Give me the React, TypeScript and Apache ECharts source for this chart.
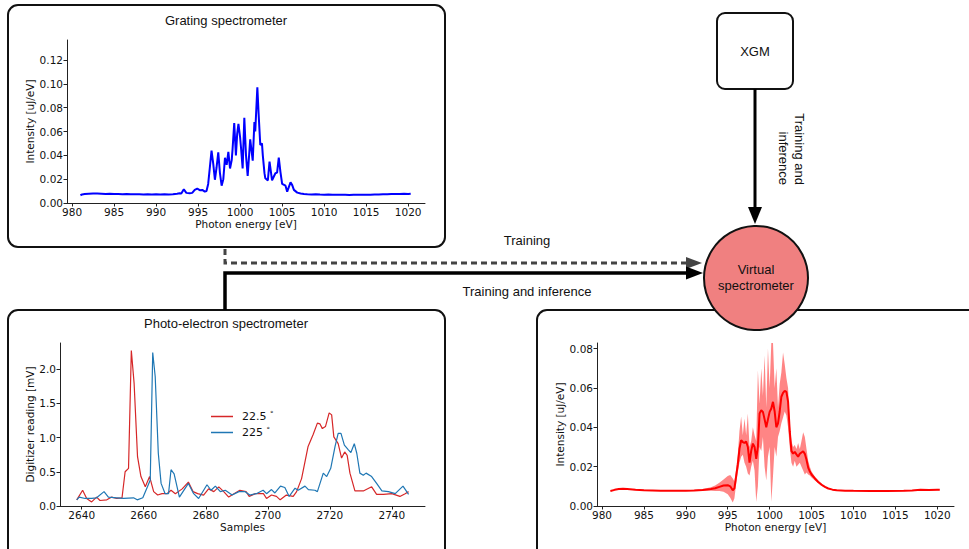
import React, { useEffect, useRef } from "react";
import * as echarts from "echarts";

// ---------- Grating spectrometer ----------
const gratingX = [981.0, 981.2, 981.5, 982.0, 982.5, 983.0, 983.5, 984.0, 984.5, 985.0, 985.5, 986.0, 986.5, 987.0, 987.5, 988.0, 988.5, 989.0, 989.5, 990.0, 990.5, 991.0, 991.5, 992.0, 992.5, 992.8, 993.0, 993.3, 993.6, 994.0, 994.3, 994.6, 994.9, 995.2, 995.5, 995.8, 996.0, 996.2, 996.4, 996.6, 996.8, 997.0, 997.2, 997.4, 997.6, 997.8, 998.0, 998.2, 998.4, 998.6, 998.8, 999.0, 999.1, 999.3, 999.5, 999.65, 999.8, 1000.0, 1000.1, 1000.3, 1000.5, 1000.7, 1000.9, 1001.2, 1001.5, 1001.7, 1001.8, 1002.05, 1002.2, 1002.4, 1002.6, 1002.7, 1002.9, 1003.0, 1003.3, 1003.5, 1003.8, 1004.0, 1004.2, 1004.4, 1004.6, 1004.8, 1005.0, 1005.4, 1005.6, 1006.0, 1006.2, 1006.4, 1006.8, 1007.2, 1007.6, 1008.0, 1008.5, 1009.0, 1009.5, 1010.0, 1010.5, 1011.0, 1011.5, 1012.0, 1012.5, 1013.0, 1013.5, 1014.0, 1014.5, 1015.0, 1015.5, 1016.0, 1016.5, 1017.0, 1017.5, 1018.0, 1018.5, 1019.0, 1019.5, 1020.0, 1020.3];
const gratingY = [0.0065, 0.0072, 0.0075, 0.0078, 0.008, 0.008, 0.0078, 0.0076, 0.0077, 0.0075, 0.0076, 0.0074, 0.0075, 0.0074, 0.0073, 0.0074, 0.0072, 0.0073, 0.0072, 0.0073, 0.0071, 0.0073, 0.0072, 0.0074, 0.0078, 0.0082, 0.008, 0.0115, 0.0085, 0.0082, 0.0085, 0.011, 0.012, 0.0108, 0.011, 0.0095, 0.01, 0.016, 0.03, 0.044, 0.033, 0.0195, 0.03, 0.0425, 0.025, 0.0145, 0.02, 0.038, 0.032, 0.043, 0.029, 0.036, 0.045, 0.067, 0.04, 0.058, 0.0665, 0.055, 0.047, 0.029, 0.0716, 0.04, 0.0227, 0.0534, 0.0355, 0.068, 0.06, 0.097, 0.075, 0.0487, 0.05, 0.04, 0.025, 0.0207, 0.019, 0.0347, 0.019, 0.022, 0.025, 0.0255, 0.038, 0.026, 0.016, 0.0145, 0.0095, 0.0173, 0.015, 0.011, 0.0087, 0.008, 0.0076, 0.0074, 0.0072, 0.0073, 0.0071, 0.007, 0.0071, 0.0069, 0.007, 0.0069, 0.007, 0.0068, 0.007, 0.0069, 0.0069, 0.007, 0.0069, 0.0071, 0.0071, 0.0073, 0.0074, 0.0076, 0.0075, 0.0076, 0.0077, 0.0076, 0.0078];

// ---------- Photo-electron spectrometer ----------
const peRedX = [2638.4, 2640.3, 2641.6, 2643.2, 2644.8, 2645.9, 2648.1, 2649.7, 2651.3, 2653.0, 2654.0, 2655.1, 2656.0, 2656.9, 2658.0, 2659.1, 2660.5, 2661.9, 2663.2, 2664.5, 2665.9, 2667.5, 2668.8, 2670.2, 2672.4, 2674.4, 2675.9, 2677.4, 2679.3, 2680.9, 2682.6, 2684.2, 2685.8, 2687.4, 2689.1, 2691.0, 2693.0, 2694.0, 2696.0, 2698.6, 2699.6, 2701.2, 2702.8, 2704.0, 2706.0, 2708.2, 2709.3, 2710.9, 2713.0, 2714.6, 2716.0, 2716.8, 2717.6, 2718.6, 2719.8, 2720.6, 2721.3, 2722.7, 2723.8, 2724.8, 2725.6, 2726.5, 2728.1, 2730.8, 2733.5, 2735.1, 2737.3, 2740.0, 2742.6, 2744.3, 2745.4];
const peRedY = [0.09, 0.23, 0.11, 0.06, 0.13, 0.08, 0.09, 0.13, 0.11, 0.12, 0.5, 0.55, 2.27, 1.79, 0.72, 0.43, 0.28, 0.43, 0.21, 0.16, 0.18, 0.18, 0.23, 0.18, 0.25, 0.35, 0.21, 0.18, 0.16, 0.25, 0.21, 0.28, 0.21, 0.13, 0.18, 0.23, 0.21, 0.14, 0.18, 0.18, 0.11, 0.16, 0.14, 0.09, 0.16, 0.14, 0.21, 0.4, 0.87, 1.04, 1.21, 1.2, 1.13, 1.16, 1.36, 1.33, 1.01, 0.91, 0.7, 0.79, 0.74, 0.48, 0.22, 0.22, 0.28, 0.17, 0.17, 0.18, 0.14, 0.18, 0.21];
const peBlueX = [2638.4, 2639.2, 2641.1, 2643.2, 2644.8, 2647.2, 2648.6, 2651.3, 2653.5, 2656.7, 2657.9, 2659.7, 2661.2, 2662.1, 2662.9, 2663.7, 2664.7, 2665.6, 2666.9, 2668.0, 2668.8, 2669.8, 2671.5, 2674.4, 2676.1, 2677.7, 2680.4, 2681.7, 2683.1, 2684.7, 2686.3, 2688.5, 2690.7, 2692.6, 2694.2, 2696.3, 2698.5, 2699.6, 2701.2, 2702.3, 2704.1, 2705.5, 2706.9, 2708.8, 2709.8, 2712.0, 2713.1, 2715.2, 2716.0, 2717.9, 2719.0, 2720.3, 2721.7, 2722.7, 2723.6, 2724.7, 2726.0, 2726.8, 2727.9, 2728.7, 2729.7, 2730.8, 2731.7, 2733.5, 2735.1, 2736.8, 2738.9, 2741.1, 2743.6, 2745.4];
const peBlueY = [0.09, 0.13, 0.11, 0.11, 0.12, 0.21, 0.13, 0.12, 0.11, 0.12, 0.09, 0.12, 0.28, 0.38, 2.24, 1.89, 0.77, 0.33, 0.18, 0.18, 0.53, 0.47, 0.13, 0.33, 0.18, 0.11, 0.31, 0.23, 0.29, 0.21, 0.23, 0.16, 0.21, 0.21, 0.16, 0.18, 0.23, 0.18, 0.24, 0.19, 0.29, 0.27, 0.14, 0.26, 0.23, 0.29, 0.24, 0.23, 0.21, 0.48, 0.43, 0.55, 0.87, 1.06, 1.06, 0.89, 0.82, 0.78, 0.91, 0.77, 0.48, 0.45, 0.48, 0.43, 0.33, 0.22, 0.21, 0.18, 0.29, 0.17];
const peSeriesNames = ["22.5 °", "225 °"];

// ---------- Virtual spectrometer ----------
const virtualX = [981.0, 981.5, 982.0, 982.5, 983.0, 984, 985, 986, 987, 988, 989, 990, 991, 992, 993, 993.5, 994, 994.5, 995, 995.3, 995.6, 995.8, 996.0, 996.2, 996.4, 996.6, 996.8, 997.0, 997.2, 997.4, 997.6, 997.8, 998.0, 998.2, 998.4, 998.6, 998.8, 999.0, 999.2, 999.4, 999.6, 999.8, 1000.0, 1000.2, 1000.4, 1000.6, 1000.8, 1001.0, 1001.2, 1001.4, 1001.6, 1001.8, 1002.0, 1002.2, 1002.4, 1002.6, 1002.8, 1003.0, 1003.2, 1003.4, 1003.6, 1003.8, 1004.0, 1004.2, 1004.4, 1004.6, 1004.8, 1005.0, 1005.4, 1005.8, 1006.2, 1006.6, 1007, 1007.5, 1008, 1009, 1010, 1012, 1014, 1016, 1017, 1018, 1019, 1020, 1020.3];
const virtualMean = [0.0076, 0.0082, 0.0086, 0.0088, 0.0086, 0.0082, 0.008, 0.0079, 0.0078, 0.0078, 0.0078, 0.0078, 0.0079, 0.0081, 0.0086, 0.009, 0.0097, 0.0104, 0.0106, 0.01, 0.008, 0.009, 0.015, 0.021, 0.029, 0.0334, 0.0325, 0.032, 0.0328, 0.03, 0.022, 0.028, 0.0317, 0.03, 0.024, 0.03, 0.047, 0.0486, 0.0478, 0.044, 0.04, 0.044, 0.0478, 0.0495, 0.0529, 0.048, 0.04, 0.042, 0.048, 0.0555, 0.0575, 0.0585, 0.058, 0.053, 0.038, 0.028, 0.0266, 0.0275, 0.0262, 0.025, 0.0265, 0.0272, 0.0278, 0.0265, 0.0235, 0.0195, 0.0175, 0.016, 0.014, 0.0122, 0.0108, 0.0097, 0.0089, 0.0083, 0.008, 0.0078, 0.0077, 0.0076, 0.0076, 0.0077, 0.0079, 0.0082, 0.0081, 0.0082, 0.0082];
const virtualUpper = [0.0078, 0.0084, 0.0088, 0.009, 0.0088, 0.0084, 0.0082, 0.0081, 0.008, 0.008, 0.008, 0.008, 0.0082, 0.0086, 0.0095, 0.0104, 0.0118, 0.0135, 0.0152, 0.0158, 0.014, 0.0125, 0.0185, 0.026, 0.038, 0.0455, 0.036, 0.0445, 0.036, 0.047, 0.03, 0.033, 0.04, 0.036, 0.033, 0.069, 0.052, 0.07, 0.056, 0.0765, 0.05, 0.08, 0.06, 0.083, 0.083, 0.06, 0.07, 0.05, 0.062, 0.068, 0.078, 0.072, 0.065, 0.06, 0.042, 0.033, 0.03, 0.031, 0.029, 0.032, 0.029, 0.033, 0.0375, 0.035, 0.029, 0.023, 0.02, 0.0175, 0.015, 0.013, 0.0114, 0.0101, 0.0092, 0.0085, 0.0082, 0.008, 0.0079, 0.0078, 0.0078, 0.0079, 0.0081, 0.0084, 0.0083, 0.0084, 0.0084];
const virtualLower = [0.0074, 0.008, 0.0084, 0.0086, 0.0084, 0.008, 0.0078, 0.0077, 0.0076, 0.0076, 0.0076, 0.0076, 0.0076, 0.0076, 0.0077, 0.0076, 0.0076, 0.0073, 0.006, 0.0042, 0.0018, 0.004, 0.011, 0.017, 0.022, 0.025, 0.026, 0.022, 0.02, 0.0165, 0.0155, 0.02, 0.023, 0.018, 0.002, 0.01, 0.03, 0.028, 0.035, 0.02, 0.013, 0.025, 0.03, 0.002, 0.015, 0.03, 0.025, 0.035, 0.038, 0.042, 0.045, 0.048, 0.046, 0.04, 0.03, 0.022, 0.02, 0.023, 0.02, 0.021, 0.022, 0.02, 0.018, 0.016, 0.017, 0.016, 0.0155, 0.0145, 0.013, 0.0115, 0.0102, 0.0093, 0.0086, 0.0081, 0.0078, 0.0076, 0.0075, 0.0074, 0.0074, 0.0075, 0.0077, 0.008, 0.0079, 0.008, 0.008];

// ---------- Tick values ----------
const energyTicks = [980, 985, 990, 995, 1000, 1005, 1010, 1015, 1020];
const gratingYTicks = [0, 0.02, 0.04, 0.06, 0.08, 0.1, 0.12];
const peXTicks = [2640, 2660, 2680, 2700, 2720, 2740];
const peYTicks = [0, 0.5, 1.0, 1.5, 2.0];
const virtualYTicks = [0, 0.02, 0.04, 0.06, 0.08];

const zip = (xs: number[], ys: number[]) => xs.map((x, i) => [x, ys[i]]);

const TICK_FONT = "DejaVu Sans";
const DIAG_FONT = '"Liberation Sans", Arial, sans-serif';
const AX_COLOR = "#222";
const TXT_COLOR = "#111";

function xAxisDef(gridIndex: number, min: number, max: number, ticks: number[], name: string, nameGap: number) {
  return {
    type: "value",
    gridIndex,
    min,
    max,
    name,
    nameLocation: "middle",
    nameGap,
    nameTextStyle: { fontFamily: TICK_FONT, fontSize: 10.5, color: TXT_COLOR },
    axisLine: { show: true, onZero: false, lineStyle: { color: AX_COLOR, width: 1 } },
    axisTick: { show: true, length: 3.5, customValues: ticks, lineStyle: { color: AX_COLOR, width: 1 } },
    axisLabel: {
      customValues: ticks,
      fontFamily: TICK_FONT,
      fontSize: 10.5,
      color: TXT_COLOR,
      margin: 3,
      formatter: (v: number) => String(v),
    },
    splitLine: { show: false },
  };
}

function yAxisDef(gridIndex: number, min: number, max: number, ticks: number[], digits: number, name: string, nameGap: number) {
  return {
    type: "value",
    gridIndex,
    min,
    max,
    name,
    nameLocation: "middle",
    nameRotate: 90,
    nameGap,
    nameTextStyle: { fontFamily: TICK_FONT, fontSize: 10.5, color: TXT_COLOR },
    axisLine: { show: true, onZero: false, lineStyle: { color: AX_COLOR, width: 1 } },
    axisTick: { show: true, length: 3.5, customValues: ticks, lineStyle: { color: AX_COLOR, width: 1 } },
    axisLabel: {
      customValues: ticks,
      fontFamily: TICK_FONT,
      fontSize: 10.5,
      color: TXT_COLOR,
      margin: 4,
      formatter: (v: number) => v.toFixed(digits),
    },
    splitLine: { show: false },
  };
}

export default function App() {
  const ref = useRef<HTMLDivElement>(null);

  useEffect(() => {
    if (!ref.current) return;
    const chart = echarts.init(ref.current, undefined, { renderer: "svg" });

    const boxStyle = { fill: "none", stroke: "#111", lineWidth: 2 };
    const diagText = (text: string, x: number, y: number, extra: any = {}) => ({
      type: "text",
      x,
      y,
      z: 20,
      style: {
        text,
        fill: "#111",
        font: `13px ${DIAG_FONT}`,
        align: "center",
        verticalAlign: "middle",
        lineHeight: 16,
        ...extra,
      },
    });

    const bandRenderItem = (_params: any, api: any) => {
      const pts: number[][] = [];
      for (let i = 0; i < virtualX.length; i++) pts.push(api.coord([virtualX[i], virtualUpper[i]]));
      for (let i = virtualX.length - 1; i >= 0; i--) pts.push(api.coord([virtualX[i], virtualLower[i]]));
      return {
        type: "polygon",
        shape: { points: pts },
        style: { fill: "rgba(255,0,0,0.48)", stroke: "none" },
      };
    };

    const option: any = {
      animation: false,
      backgroundColor: "#fff",
      grid: [
        { left: 67, top: 40, width: 358, height: 163 },
        { left: 60, top: 343, width: 365, height: 163 },
        { left: 597, top: 343, width: 357, height: 163 },
      ],
      xAxis: [
        xAxisDef(0, 979.4, 1022, energyTicks, "Photon energy [eV]", 15),
        xAxisDef(1, 2633, 2750.7, peXTicks, "Samples", 15),
        xAxisDef(2, 979.4, 1022, energyTicks, "Photon energy [eV]", 15),
      ],
      yAxis: [
        yAxisDef(0, 0, 0.1368, gratingYTicks, 2, "Intensity [uJ/eV]", 29),
        yAxisDef(1, 0, 2.38, peYTicks, 1, "Digitizer reading [mV]", 22),
        yAxisDef(2, 0, 0.0828, virtualYTicks, 2, "Intensity [uJ/eV]", 29),
      ],
      legend: {
        data: peSeriesNames,
        left: 211,
        top: 410,
        padding: 0,
        orient: "vertical",
        icon: "rect",
        itemWidth: 22,
        itemHeight: 1.5,
        itemGap: 3,
        textStyle: {
          fontFamily: TICK_FONT,
          fontSize: 11,
          color: TXT_COLOR,
          lineHeight: 13,
          padding: [0, 0, 0, 4],
          rich: { d: { fontSize: 7, verticalAlign: "top", lineHeight: 13, fontFamily: TICK_FONT, color: TXT_COLOR } },
        },
        formatter: (name: string) => name.replace(" °", " {d|°}"),
      },
      series: [
        {
          name: "Grating",
          type: "line",
          xAxisIndex: 0,
          yAxisIndex: 0,
          data: zip(gratingX, gratingY),
          showSymbol: false,
          symbol: "none",
          color: "#0000ff",
          lineStyle: { color: "#0000ff", width: 2 },
        },
        {
          name: peSeriesNames[0],
          type: "line",
          xAxisIndex: 1,
          yAxisIndex: 1,
          data: zip(peRedX, peRedY),
          symbol: "none",
          color: "#d62728",
          lineStyle: { color: "#d62728", width: 1.2 },
        },
        {
          name: peSeriesNames[1],
          type: "line",
          xAxisIndex: 1,
          yAxisIndex: 1,
          data: zip(peBlueX, peBlueY),
          symbol: "none",
          color: "#1f77b4",
          lineStyle: { color: "#1f77b4", width: 1.2 },
        },
        {
          name: "band",
          type: "custom",
          xAxisIndex: 2,
          yAxisIndex: 2,
          clip: true,
          renderItem: bandRenderItem,
          data: [[virtualX[0], virtualLower[0]]],
          z: 1,
        },
        {
          name: "mean",
          type: "line",
          xAxisIndex: 2,
          yAxisIndex: 2,
          data: zip(virtualX, virtualMean),
          symbol: "none",
          color: "#ff0000",
          lineStyle: { color: "#ff0000", width: 2 },
          z: 3,
        },
      ],
      graphic: {
        elements: [
          { type: "rect", z: 1, shape: { x: 8, y: 5, width: 437, height: 242, r: 10 }, style: boxStyle },
          { type: "rect", z: 1, shape: { x: 8, y: 310, width: 437, height: 262, r: 10 }, style: boxStyle },
          { type: "rect", z: 1, shape: { x: 537, y: 310, width: 450, height: 262, r: 10 }, style: boxStyle },
          { type: "rect", z: 1, shape: { x: 717, y: 13, width: 76, height: 76, r: 8 }, style: boxStyle },
          // dashed "Training" arrow
          {
            type: "polyline",
            z: 2,
            shape: { points: [[225, 249], [225, 263], [688, 263]] },
            style: { fill: "none", stroke: "#444", lineWidth: 3, lineDash: [6, 4] },
          },
          { type: "polygon", z: 2, shape: { points: [[686, 257], [686, 269], [702, 263]] }, style: { fill: "#444" } },
          // solid "Training and inference" arrow
          {
            type: "polyline",
            z: 2,
            shape: { points: [[225, 310], [225, 273], [688, 273]] },
            style: { fill: "none", stroke: "#000", lineWidth: 3.5 },
          },
          { type: "polygon", z: 2, shape: { points: [[686, 266.5], [686, 279.5], [703, 273]] }, style: { fill: "#000" } },
          // XGM arrow
          {
            type: "line",
            z: 2,
            shape: { x1: 755, y1: 89, x2: 755, y2: 208 },
            style: { stroke: "#000", lineWidth: 3 },
          },
          { type: "polygon", z: 2, shape: { points: [[748, 207], [762, 207], [755, 224]] }, style: { fill: "#000" } },
          // virtual spectrometer circle
          {
            type: "circle",
            z: 10,
            shape: { cx: 756, cy: 278, r: 52 },
            style: { fill: "#F08080", stroke: "#111", lineWidth: 2 },
          },
          diagText("Grating spectrometer", 226, 20),
          diagText("Photo-electron spectrometer", 226, 323),
          diagText("XGM", 755, 51),
          diagText("Training", 527, 240),
          diagText("Training and inference", 527, 291),
          diagText("Virtual\nspectrometer", 756, 277),
          {
            type: "text",
            x: 791,
            y: 185,
            rotation: -Math.PI / 2,
            z: 20,
            style: {
              text: "Training and\ninference",
              fill: "#111",
              font: `13px ${DIAG_FONT}`,
              align: "right",
              verticalAlign: "middle",
              lineHeight: 16,
            },
          },
        ],
      },
    };

    chart.setOption(option);
    return () => chart.dispose();
  }, []);

  return (
    <div
      ref={ref}
      style={{ position: "fixed", left: 0, top: 0, width: 969, height: 549, background: "#fff" }}
    />
  );
}
